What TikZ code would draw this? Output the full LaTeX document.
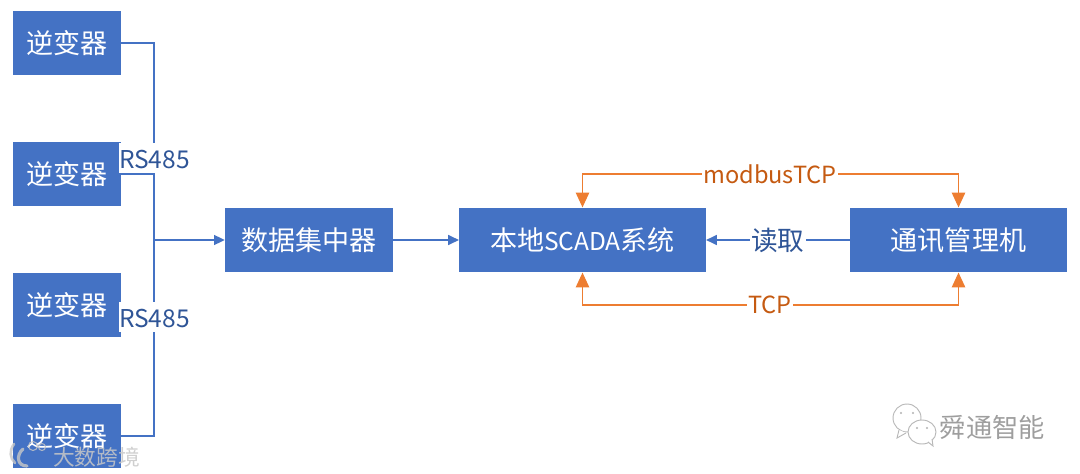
\documentclass[tikz,border=0pt]{standalone}
\usepackage{fontspec}
\setmainfont{Noto Sans CJK SC}
\usetikzlibrary{arrows.meta}
\definecolor{boxblue}{HTML}{4472C4}
\definecolor{linkorange}{HTML}{ED7D31}
\definecolor{labelblue}{HTML}{2F5597}
\definecolor{labelorange}{HTML}{C55A11}
\tikzset{
  devbox/.style={fill=boxblue,text=white,font=\fontsize{20.3}{22}\selectfont,inner sep=0pt},
  invbox/.style={devbox,minimum width=81pt,minimum height=48.5pt},
  buslink/.style={draw=boxblue,line width=0.9pt},
  busarrow/.style={buslink,-{Triangle[length=8pt,width=7.5pt]}},
  orlink/.style={draw=linkorange,line width=0.9pt,{Triangle[length=11pt,width=10pt]}-{Triangle[length=11pt,width=10pt]}},
  lbl/.style={fill=white,inner ysep=0pt,inner xsep=1pt,font=\fontsize{17.7}{20}\selectfont},
  rslbl/.style={lbl,text=labelblue,anchor=north,inner xsep=0pt,text height=18.75pt,text depth=3.75pt,font=\fontsize{18.4}{20}\selectfont},
  logoline/.style={white!78!black,opacity=0.8,line cap=round}
}
\begin{document}
\begin{tikzpicture}[x=0.75pt,y=-0.75pt]
  \useasboundingbox (0,0) rectangle (1080,474);
  % inverters
  \node[invbox] (inv1) at (67,43) {逆变器};
  \node[invbox] (inv2) at (67,174) {逆变器};
  \node[invbox] (inv3) at (67,305) {逆变器};
  \node[invbox] (inv4) at (67,436) {逆变器};
  % main boxes
  \node[devbox,minimum width=126pt,minimum height=48.5pt] (hub) at (309,240) {数据集中器};
  \node[devbox,minimum width=185pt,minimum height=48.5pt] (scada) at (582.5,240) {本地{\fontsize{18.4}{20}\selectfont SCADA}系统};
  \node[devbox,minimum width=163pt,minimum height=48.5pt] (comm) at (958.5,240) {通讯管理机};
  % bus on the left
  \coordinate (busjoin) at (154,240);
  \draw[buslink] (inv1.east) -| (busjoin);
  \draw[buslink] (inv2.east) -| (busjoin);
  \draw[buslink] (inv3.east) -| (busjoin);
  \draw[buslink] (inv4.east) -| (busjoin);
  \draw[busarrow] (busjoin) -- (hub.west);
  \draw[busarrow] (hub.east) -- (scada.west);
  \node[rslbl] (rs1) at (154.5,143) {RS485};
  \node[rslbl] (rs2) at (154.5,302) {RS485};
  % links on the right
  \draw[busarrow] (comm.west) -- node[lbl,text=labelblue,font=\fontsize{20}{22}\selectfont] (read) {读取} (scada.east);
  \draw[orlink] (scada.north) |- (770,174) -| (comm.north);
  \draw[orlink] (scada.south) |- (770,305) -| (comm.south);
  \node[lbl,text=labelorange] (mbus) at (770,174) {modbusTCP};
  \node[lbl,text=labelorange] (tcp) at (770,305) {TCP};
  % watermarks
  \draw[black!28,fill=white,line width=0.7pt] (907,418) ellipse (14 and 14);
  \draw[black!28,fill=white,line width=0.7pt] (899,430) -- (897,438) -- (906,433);
  \draw[black!28,fill=white,line width=0.7pt] (922,432) ellipse (14 and 12);
  \draw[black!28,fill=white,line width=0.7pt] (928,442) -- (933,446) -- (932,439);
  \fill[black!30] (901,413) circle (1.2) (913,413) circle (1.2) (917,428) circle (1.2) (927,428) circle (1.2);
  \node[text=black!38,font=\fontsize{19.7}{22}\selectfont,inner sep=0pt] (wm1) at (992.5,427) {舜通智能};
  \draw[logoline,line width=2pt] (14,444) .. controls (9,451) and (10,458) .. (15,463);
  \draw[logoline,line width=2.4pt] (23,449) .. controls (16,455) and (17,466) .. (27,466);
  \draw[logoline,line width=0.8pt] (33,446) circle (4.5) (42,447) circle (3.5);
  \node[text=white!78!black,opacity=0.85,font=\fontsize{16.3}{18}\selectfont,inner sep=0pt] (wm2) at (96.5,457) {大数跨境};
\end{tikzpicture}
\end{document}
